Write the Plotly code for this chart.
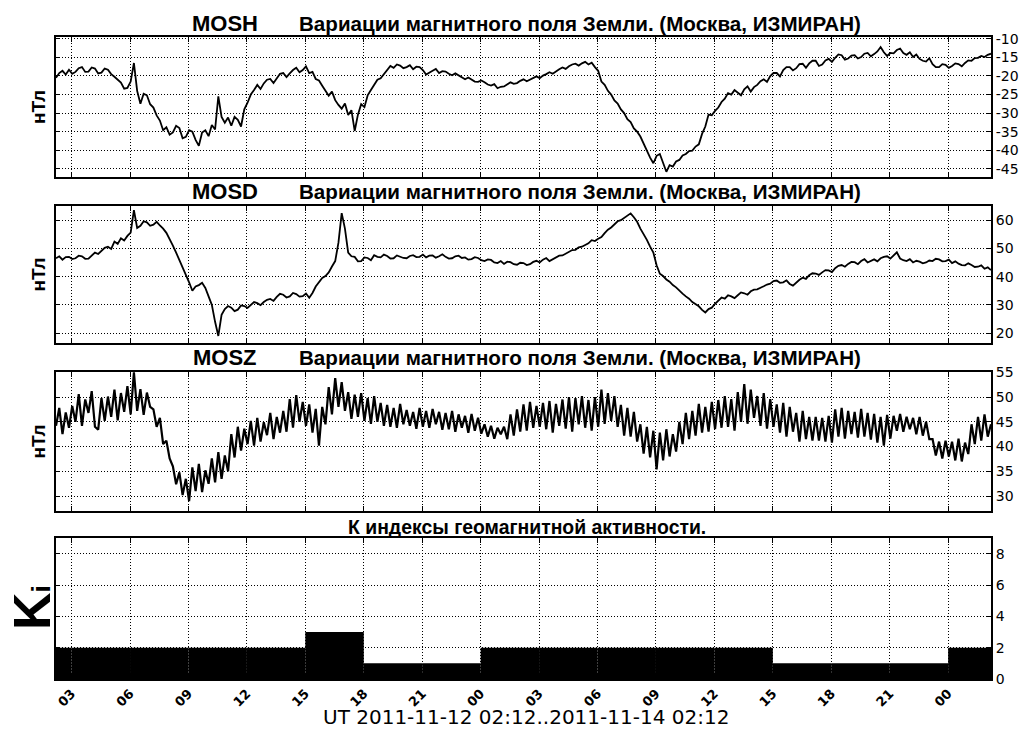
import pandas as pd
import plotly.graph_objects as go

START = "2011-11-12 02:12"
END = "2011-11-14 02:12"

# MOSH, 10-minute samples from 02:12
MOSH = [
    -20.5, -19.2, -18.6, -19.6, -18.3, -19.4, -18.9, -17.9, -17.6, -18.9, -18.8, -17.7,
    -18.0, -19.3, -19.1, -18.0, -18.3, -19.5, -20.2, -21.0, -21.8, -23.4, -23.2, -21.5,
    -16.5, -24.0, -27.5, -24.8, -25.2, -27.6, -28.5, -30.6, -32.0, -34.6, -33.8, -35.8,
    -35.2, -33.4, -34.0, -36.8, -36.4, -34.6, -35.0, -37.2, -38.8, -35.2, -34.6, -36.2,
    -33.2, -34.4, -25.5, -31.0, -32.6, -31.2, -33.4, -31.0, -31.8, -33.6, -29.0, -27.2,
    -25.0, -23.8, -22.4, -23.5, -22.0, -21.0, -20.8, -21.9, -20.5, -19.4, -19.2, -20.3,
    -19.3, -18.4, -17.8, -19.0, -18.4, -17.4, -19.2, -18.9, -20.8, -21.2, -22.6, -24.0,
    -25.3, -24.2, -26.5, -27.8, -28.8, -27.4, -30.5, -29.2, -34.8, -30.4, -27.6, -28.4,
    -25.2, -23.8, -22.4, -21.0, -20.6, -19.4, -18.4, -17.3, -17.8, -16.9, -17.2, -17.9,
    -17.6, -17.1, -18.2, -17.5, -17.6, -18.4, -19.6, -19.0, -18.6, -18.1, -19.2, -18.7,
    -18.8, -19.4, -19.8, -19.3, -19.9, -20.4, -20.9, -20.4, -21.0, -21.5, -21.6, -21.2,
    -21.7, -22.3, -22.6, -22.2, -23.3, -22.9, -22.8, -22.3, -21.7, -22.1, -21.9, -21.3,
    -20.9, -21.4, -21.0, -20.5, -20.1, -20.6, -19.9, -19.5, -19.0, -19.4, -18.7, -18.2,
    -17.7, -18.1, -17.4, -16.9, -16.7, -17.2, -16.6, -16.2, -16.9, -16.4, -17.6, -18.6,
    -21.5, -22.4, -24.0, -25.0, -26.6, -27.4, -29.0, -30.0, -31.6, -32.4, -34.1, -35.0,
    -36.3, -38.2, -40.5, -42.0, -43.5, -41.5, -41.0, -43.4, -45.8, -44.0, -44.4, -43.0,
    -42.6, -41.4, -41.0, -40.2, -40.1, -39.0, -38.4, -35.6, -33.6, -30.4, -30.6, -29.4,
    -28.5, -27.0, -26.1, -24.6, -25.0, -23.8, -24.6, -25.2, -23.6, -22.8, -24.2, -23.0,
    -22.4, -21.4, -20.9, -21.6, -20.0, -19.2, -19.2, -20.1, -18.4, -17.6, -17.6, -18.5,
    -17.9, -16.8, -16.7, -17.8, -16.6, -15.9, -15.9, -17.3, -16.9, -15.8, -15.4, -16.2,
    -15.1, -14.2, -14.4, -15.6, -15.3, -14.5, -14.4, -15.3, -14.9, -14.0, -13.8, -14.7,
    -14.1, -13.4, -12.2, -13.6, -14.6, -13.8, -13.9, -13.0, -12.6, -13.8, -14.3, -13.6,
    -14.9, -14.2, -15.4, -15.9, -16.1, -15.2, -16.8, -17.6, -17.6, -16.8, -17.0, -17.8,
    -17.3, -16.6, -16.8, -17.4, -16.5, -15.8, -15.9, -15.2, -15.1, -14.6, -14.9, -14.3,
    -14.0,
]

# MOSD, 10-minute samples from 02:12
MOSD = [
    46.5, 47.2, 46.0, 46.9, 47.0, 46.2, 46.5, 47.4, 47.2, 46.3, 46.4, 47.6,
    48.5, 48.0, 49.3, 50.2, 50.6, 49.8, 52.4, 51.6, 53.6, 52.8, 54.4, 55.6,
    63.5, 57.2, 58.0, 59.6, 59.2, 58.0, 58.4, 59.4, 58.1, 57.0, 55.5, 53.5,
    51.0, 48.5, 46.0, 43.5, 41.0, 38.0, 35.0, 36.5, 37.0, 37.8, 36.0, 33.0,
    30.0, 24.0, 19.0, 26.5, 28.5, 29.6, 29.0, 27.8, 28.3, 29.8, 29.6, 28.9,
    29.8, 31.0, 30.6, 29.9, 31.0, 31.8, 32.1, 31.4, 32.8, 33.9, 33.6, 32.6,
    33.0, 34.2, 33.8, 32.9, 33.1, 34.0, 32.5, 34.2, 36.5, 38.2, 39.5, 40.2,
    41.5, 43.6, 45.5, 52.0, 62.5, 57.0, 48.5, 47.2, 47.0, 45.4, 45.5, 46.8,
    46.6, 45.8, 47.6, 47.0, 46.8, 47.8, 47.3, 46.4, 46.5, 47.5, 47.1, 46.6,
    46.5, 47.3, 47.6, 46.9, 47.0, 47.8, 46.8, 47.4, 47.5, 46.7, 47.2, 47.9,
    47.0, 46.4, 46.5, 47.2, 47.4, 46.6, 46.8, 46.0, 46.2, 46.9, 46.6, 45.8,
    45.5, 46.1, 45.9, 45.0, 44.8, 45.5, 44.5, 45.3, 45.1, 44.4, 44.2, 44.9,
    44.8, 44.1, 44.4, 45.2, 45.6, 45.0, 46.0, 46.6, 45.5, 46.2, 46.9, 47.4,
    47.5, 48.2, 48.6, 49.4, 49.5, 50.4, 50.6, 51.2, 51.8, 52.9, 52.6, 53.4,
    54.0, 55.4, 56.6, 57.4, 58.5, 59.6, 60.0, 60.8, 61.6, 62.4, 61.0, 59.4,
    57.0, 55.2, 53.0, 50.6, 48.5, 44.0, 41.0, 40.2, 39.0, 38.2, 37.0, 36.2,
    35.0, 34.0, 33.0, 32.2, 31.0, 30.4, 29.5, 28.2, 27.3, 28.5, 29.0, 30.4,
    31.5, 32.6, 32.2, 33.4, 33.0, 32.4, 33.4, 34.4, 34.1, 33.6, 34.8, 35.4,
    35.5, 36.2, 36.6, 37.2, 37.5, 38.4, 38.6, 37.8, 38.0, 38.7, 37.4, 36.8,
    38.0, 38.9, 39.6, 39.2, 40.5, 41.2, 41.1, 40.6, 41.5, 42.3, 42.2, 41.6,
    43.0, 43.8, 44.1, 43.5, 44.5, 45.2, 45.1, 44.4, 45.5, 46.2, 45.0, 45.7,
    46.1, 45.4, 46.5, 47.0, 47.2, 46.4, 47.5, 48.6, 46.4, 45.8, 45.5, 46.2,
    45.0, 45.6, 45.3, 44.7, 45.0, 45.7, 45.5, 46.3, 46.1, 45.4, 45.5, 46.0,
    44.8, 45.4, 44.6, 44.1, 44.0, 44.7, 44.1, 43.4, 43.5, 44.0, 42.8, 43.3,
    42.3,
]

# MOSZ, 10-minute samples from 02:12
MOSZ = [
    44.2, 47.8, 42.5, 46.9, 43.8, 48.2, 45.0, 50.6, 44.2, 49.5, 46.8, 51.2,
    44.0, 43.4, 49.8, 45.2, 50.1, 46.0, 51.5, 45.3, 50.8, 47.0, 52.2, 46.5,
    55.0, 47.2, 51.6, 46.4, 50.9, 48.0, 47.5, 44.0, 45.8, 40.5, 41.2, 37.6,
    36.0, 32.4, 34.8, 30.2, 33.5, 29.0, 35.8, 31.0, 36.5, 30.8, 35.2, 32.5,
    37.6, 32.8, 38.9, 33.5, 38.2, 35.0, 42.5, 37.8, 44.0, 39.2, 43.6, 40.5,
    45.2, 40.2, 45.8, 41.0, 44.9, 42.3, 46.8, 41.5, 46.0, 42.8, 47.2, 43.0,
    49.6, 43.8, 50.4, 45.0, 49.0, 44.2, 48.5, 42.8, 47.6, 40.2, 48.0, 44.5,
    52.0, 46.5, 53.8, 48.0, 53.0, 47.2, 51.0, 45.6, 50.5, 46.0, 50.8, 45.2,
    49.8, 44.6, 50.2, 45.0, 48.8, 44.2, 48.4, 44.0, 47.8, 43.8, 48.6, 44.5,
    47.4, 44.2, 47.0, 43.6, 47.8, 44.0, 47.2, 43.8, 47.6, 44.5, 47.0, 43.4,
    46.8, 43.5, 47.2, 43.0, 46.5, 43.8, 46.2, 42.8, 46.6, 43.2, 45.8, 42.6,
    44.5, 42.0, 44.2, 41.6, 43.8, 42.5, 44.0, 41.5, 46.5, 42.2, 47.5, 43.0,
    48.5, 43.2, 49.0, 43.8, 48.2, 44.0, 48.8, 43.5, 49.2, 42.8, 48.6, 44.2,
    49.5, 43.6, 50.0, 43.0, 49.8, 44.5, 50.2, 43.8, 49.4, 43.2, 50.0, 44.0,
    51.5, 44.6, 50.8, 45.2, 50.2, 44.0, 48.4, 42.2, 47.8, 42.0, 47.0, 41.0,
    44.5, 38.6, 44.0, 37.8, 43.2, 35.4, 42.8, 37.2, 43.5, 38.0, 42.5, 39.0,
    45.0, 40.5, 46.8, 41.5, 47.2, 42.2, 48.6, 42.8, 48.0, 43.0, 49.0, 43.5,
    49.4, 43.8, 50.2, 44.0, 49.6, 43.2, 51.0, 45.0, 52.6, 44.6, 51.5, 45.8,
    50.2, 44.2, 50.8, 43.6, 49.6, 44.0, 48.5, 42.8, 48.8, 42.0, 48.0, 43.0,
    46.8, 41.0, 47.2, 41.5, 46.0, 41.2, 46.0, 41.2, 45.8, 41.0, 46.2, 40.8,
    47.5, 42.0, 47.8, 41.6, 47.2, 42.5, 47.0, 41.8, 47.6, 42.0, 46.8, 41.4,
    46.6, 40.8, 46.0, 40.2, 46.4, 41.6, 46.2, 43.2, 46.6, 43.0, 46.0, 43.5,
    45.8, 42.5, 46.0, 42.2, 45.0, 41.5, 41.5, 38.2, 41.0, 37.6, 41.2, 38.0,
    41.0, 37.2, 41.6, 37.0, 40.8, 38.5, 44.5, 40.5, 46.0, 41.2, 46.5, 42.0,
    44.5,
]

# K indices, 3-hour bins
KI_BIN_START = [
    "2011-11-12 00:00", "2011-11-12 03:00", "2011-11-12 06:00", "2011-11-12 09:00",
    "2011-11-12 12:00", "2011-11-12 15:00", "2011-11-12 18:00", "2011-11-12 21:00",
    "2011-11-13 00:00", "2011-11-13 03:00", "2011-11-13 06:00", "2011-11-13 09:00",
    "2011-11-13 12:00", "2011-11-13 15:00", "2011-11-13 18:00", "2011-11-13 21:00",
    "2011-11-14 00:00",
]
KI_VALUES = [2, 2, 2, 2, 2, 3, 1, 1, 2, 2, 2, 2, 2, 1, 1, 1, 2]

Y1_TICKS = [-45, -40, -35, -30, -25, -20, -15, -10]
Y1_TEXT = ["-45", "-40", "-35", "-30", "-25", "-20", "-15", "-10"]
Y2_TICKS = [20, 30, 40, 50, 60]
Y3_TICKS = [30, 35, 40, 45, 50, 55]
Y4_TICKS = [0, 2, 4, 6, 8]

TITLE_PREFIX = ["MOSH", "MOSD", "MOSZ"]
TITLE_MAIN = "Вариации магнитного поля Земли. (Москва, ИЗМИРАН)"
TITLE_KI = "К индексы геомагнитной активности."
X_TITLE = "UT 2011-11-12 02:12..2011-11-14 02:12"

t10 = pd.date_range(START, periods=len(MOSZ), freq="10min")

W, H = 1032, 729
L, R, T, B = 56, 41, 37, 50
PW, PH = W - L - R, H - T - B


def pyp(py):
    return (H - B - py) / PH


def pxp(px):
    return (px - L) / PW


panels = [(177, 37), (343, 206), (511, 372), (679, 538)]

fig = go.Figure()
fig.add_trace(go.Scatter(x=t10, y=MOSH, mode="lines", line=dict(color="black", width=1.8),
                         xaxis="x", yaxis="y"))
fig.add_trace(go.Scatter(x=t10, y=MOSD, mode="lines", line=dict(color="black", width=1.8),
                         xaxis="x2", yaxis="y2"))
fig.add_trace(go.Scatter(x=t10, y=MOSZ, mode="lines", line=dict(color="black", width=2.2),
                         xaxis="x3", yaxis="y3"))
fig.add_trace(go.Bar(x=KI_BIN_START, y=KI_VALUES, width=3 * 3600 * 1000, offset=0,
                     marker=dict(color="black", line=dict(width=0)),
                     xaxis="x4", yaxis="y4"))

GRID = dict(showgrid=True, gridcolor="black", griddash="1px,2px", gridwidth=1,
            showline=True, linecolor="black", linewidth=2, mirror="ticks",
            ticks="inside", tickcolor="black", zeroline=False)

layout_axes = {}
for i, (bot, top) in enumerate(panels, start=1):
    xa = dict(GRID, type="date", range=[START, END], tick0="2011-11-12 00:00",
              dtick=3 * 3600 * 1000, tickformat="%H", ticklen=5,
              anchor="y" if i == 1 else f"y{i}", domain=[0, 1],
              showticklabels=(i == 4))
    if i == 4:
        xa["tickangle"] = -45
        xa["tickfont"] = dict(family="DejaVu Sans", size=13, color="black", weight="bold")
    layout_axes["xaxis" if i == 1 else f"xaxis{i}"] = xa

yfont = dict(family="DejaVu Sans", size=14, color="black")
ydefs = [
    dict(range=[-47.2, -9.5], tickvals=Y1_TICKS, ticktext=Y1_TEXT),
    dict(range=[16.5, 65], tickvals=Y2_TICKS),
    dict(range=[27, 55.05], tickvals=Y3_TICKS),
    dict(range=[0, 9], tickvals=Y4_TICKS),
]
for i, ((bot, top), yd) in enumerate(zip(panels, ydefs), start=1):
    ya = dict(GRID, side="right", ticklen=4, tickfont=yfont, tickmode="array",
              anchor="x" if i == 1 else f"x{i}", domain=[pyp(bot), pyp(top)], **yd)
    layout_axes["yaxis" if i == 1 else f"yaxis{i}"] = ya

tfont = dict(family="Liberation Sans", size=20.6, color="black")
ann = []
title_centers = [23, 192, 357]
for name, (bot, top), cy in zip(TITLE_PREFIX, panels[:3], title_centers):
    ann.append(dict(text=f"<b>{name}</b>", x=pxp(225), y=pyp(cy), xref="paper", yref="paper",
                    xanchor="center", yanchor="middle", showarrow=False,
                    font=dict(family="Liberation Sans", size=22, color="black")))
    ann.append(dict(text=f"<b>{TITLE_MAIN}</b>", x=pxp(297), y=pyp(cy), xref="paper", yref="paper",
                    xanchor="left", yanchor="middle", showarrow=False, font=tfont))
    ann.append(dict(text="<b>нТл</b>", x=pxp(38), y=pyp((bot + top) / 2), xref="paper", yref="paper",
                    xanchor="center", yanchor="middle", textangle=-90, showarrow=False,
                    font=dict(family="Liberation Sans", size=19, color="black")))
ann.append(dict(text=f"<b>{TITLE_KI}</b>", x=pxp(527), y=pyp(527), xref="paper", yref="paper",
                xanchor="center", yanchor="middle", showarrow=False,
                font=dict(family="Liberation Sans", size=19.4, color="black")))
ann.append(dict(text="<b>K<span style='font-size:26px'>i</span></b>", x=pxp(32), y=pyp(608),
                xref="paper", yref="paper", xanchor="center", yanchor="middle", textangle=-90,
                showarrow=False, font=dict(family="Liberation Sans", size=52, color="black")))
ann.append(dict(text=X_TITLE, x=pxp(526), y=pyp(717), xref="paper", yref="paper",
                xanchor="center", yanchor="middle", showarrow=False,
                font=dict(family="DejaVu Sans", size=20, color="black")))

fig.update_layout(width=W, height=H, margin=dict(l=L, r=R, t=T, b=B),
                  paper_bgcolor="white", plot_bgcolor="white", showlegend=False,
                  annotations=ann, **layout_axes)

fig.write_html("out.html")
